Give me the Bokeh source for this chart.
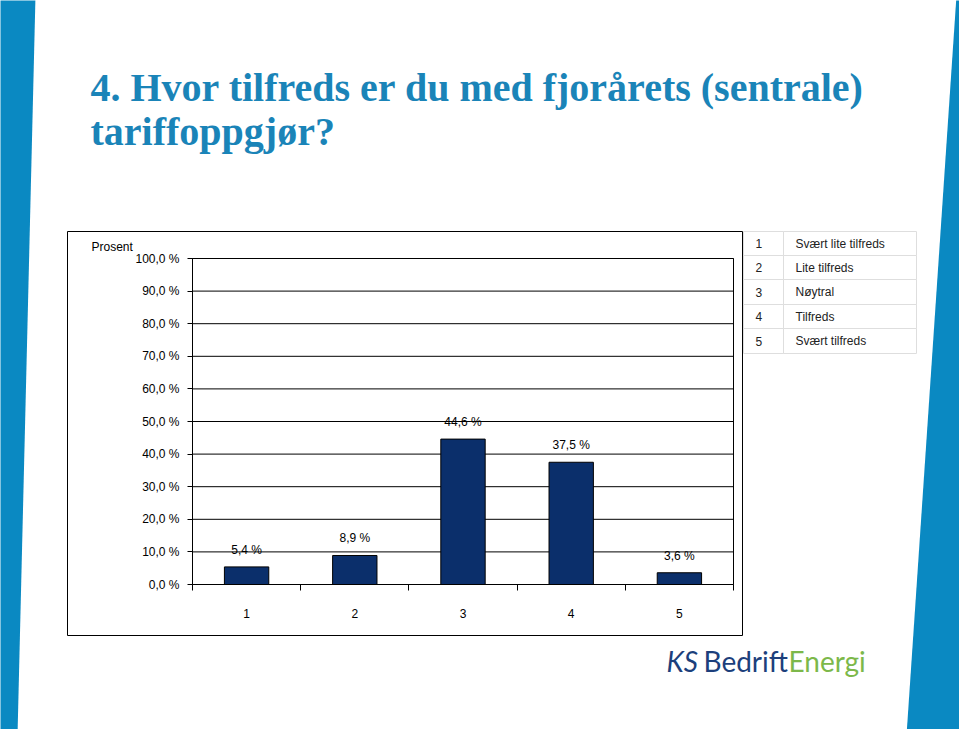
from bokeh.plotting import figure
from bokeh.models import Range1d, FixedTicker, LinearAxis
from bokeh.embed import file_html
from bokeh.resources import INLINE
from bokeh.core.properties import value

# ---- data ----
title_lines = ["4. Hvor tilfreds er du med fjorårets (sentrale)", "tariffoppgjør?"]
categories = ["1", "2", "3", "4", "5"]
values = [5.4, 8.9, 44.6, 37.5, 3.6]
value_labels = ["5,4 %", "8,9 %", "44,6 %", "37,5 %", "3,6 %"]
y_ticks = [0, 10, 20, 30, 40, 50, 60, 70, 80, 90, 100]
y_tick_labels = ["0,0 %", "10,0 %", "20,0 %", "30,0 %", "40,0 %", "50,0 %",
                 "60,0 %", "70,0 %", "80,0 %", "90,0 %", "100,0 %"]
y_axis_title = "Prosent"
legend_codes = ["1", "2", "3", "4", "5"]
legend_texts = ["Svært lite tilfreds", "Lite tilfreds", "Nøytral", "Tilfreds", "Svært tilfreds"]
logo_parts = ["KS", "Bedrift", "Energi"]

# ---- styles / layout (page pixels) ----
BAR = "#0b2f6b"
TITLE_C = "#1a84b8"
STRIPE = "#0a89c2"
FONT = "Liberation Sans"

W, H = 959, 729
FL, FR, FT, FB = 192, 733, 258, 584   # chart plot area in page px
XMIN, XMAX = 0.5, len(categories) + 0.5
YMIN, YMAX = 0, 100
sx = (XMAX - XMIN) / (FR - FL)
sy = (YMAX - YMIN) / (FB - FT)

xs = [i + 1 for i in range(len(categories))]

# page-pixel coordinate system (y down) for the slide; chart ranges as extra ranges
p = figure(width=W, height=H, output_backend="svg", toolbar_location=None,
           x_range=Range1d(0, W), y_range=Range1d(H, 0),
           x_axis_type=None, y_axis_type=None,
           min_border=0, min_border_left=0, min_border_right=0,
           min_border_top=0, min_border_bottom=0)
p.extra_x_ranges = {"cat": Range1d(XMIN - FL * sx, XMAX + (W - FR) * sx)}
p.extra_y_ranges = {"pct": Range1d(YMIN - (H - FB) * sy, YMAX + FT * sy)}
p.background_fill_color = "white"
p.border_fill_color = "white"
p.outline_line_color = None
p.xgrid.visible = False
p.ygrid.visible = False

# ---- slide decorations ----
p.patch([-5, 35, 17, -5], [-5, -5, 735, 735], fill_color=STRIPE, line_color=None)
p.patch([956, 965, 965, 906], [-5, -5, 735, 735], fill_color=STRIPE, line_color=None)

for i, t in enumerate(title_lines):
    p.text(x=[90], y=[87 + 44 * i], text=[t], text_font=value("Liberation Serif"),
           text_font_size="40px", text_font_style="bold", text_color=TITLE_C,
           text_baseline="alphabetic", text_align="left")

# chart box
p.quad(left=67, right=742, top=231, bottom=635, fill_color=None,
       line_color="black", line_width=1)
p.text(x=[91], y=[246], text=[y_axis_title], text_font=value(FONT),
       text_font_size="12px", text_color="black", text_baseline="middle")

# legend table
row_edges = [231, 255, 279, 304, 328, 353]
for i, (c, t) in enumerate(zip(legend_codes, legend_texts)):
    top, bot = row_edges[i], row_edges[i + 1]
    p.quad(left=[743, 783], right=[783, 916], top=[top, top], bottom=[bot, bot],
           fill_color=None, line_color="#dedede", line_width=1)
    ymid = (top + bot) / 2
    p.text(x=[755], y=[ymid], text=[c], text_font=value(FONT), text_font_size="12px",
           text_color="#222222", text_baseline="middle")
    p.text(x=[795], y=[ymid], text=[t], text_font=value(FONT), text_font_size="12px",
           text_color="#222222", text_baseline="middle")

# logo
logo_x = [666, 703, 788]
logo_c = ["#1c3f7c", "#1c3f7c", "#7cb84a"]
logo_style = ["italic", "normal", "normal"]
for t, x, c, s in zip(logo_parts, logo_x, logo_c, logo_style):
    p.text(x=[x], y=[660], text=[t], text_font=value("Lato"), text_font_size="28px",
           text_font_style=s, text_color=c, text_baseline="alphabetic")

# ---- the chart ----
ck = dict(x_range_name="cat", y_range_name="pct")
grid_y = y_ticks[1:]
p.segment(x0=[XMIN] * len(grid_y), x1=[XMAX] * len(grid_y), y0=grid_y, y1=grid_y,
          line_color="black", line_width=1, **ck)
p.quad(left=XMIN, right=XMAX, bottom=YMIN, top=YMAX, fill_color=None,
       line_color="black", line_width=1, **ck)
p.vbar(x=xs, top=values, width=0.41, fill_color=BAR, line_color="black",
       line_width=1, **ck)
p.text(x=xs, y=values, text=value_labels, text_align="center", text_baseline="middle",
       y_offset=-17, text_font=value(FONT), text_font_size="12px", text_color="black", **ck)

xa = LinearAxis(x_range_name="cat", y_range_name="pct", fixed_location=YMIN,
                bounds=(XMIN, XMAX))
xa.ticker = FixedTicker(ticks=xs, minor_ticks=[x - 0.5 for x in xs] + [xs[-1] + 0.5])
xa.major_label_overrides = {x: c for x, c in zip(xs, categories)}
xa.major_tick_out = 0
xa.major_tick_in = 0
xa.minor_tick_out = 6
xa.minor_tick_in = 0
xa.minor_tick_line_color = "black"
xa.axis_line_color = "black"
xa.major_label_standoff = 18
xa.major_label_text_font = FONT
xa.major_label_text_font_size = "12px"
xa.major_label_text_color = "black"
p.add_layout(xa, "below")

ya = LinearAxis(x_range_name="cat", y_range_name="pct", fixed_location=XMIN,
                bounds=(YMIN, YMAX))
ya.ticker = FixedTicker(ticks=y_ticks)
ya.major_label_overrides = {t: l for t, l in zip(y_ticks, y_tick_labels)}
ya.major_tick_out = 5
ya.major_tick_in = 0
ya.major_tick_line_color = "black"
ya.minor_tick_out = 0
ya.minor_tick_in = 0
ya.axis_line_color = "black"
ya.major_label_standoff = 8
ya.major_label_text_font = FONT
ya.major_label_text_font_size = "12px"
ya.major_label_text_color = "black"
p.add_layout(ya, "left")

open("out.html", "w").write(file_html(p, INLINE))
